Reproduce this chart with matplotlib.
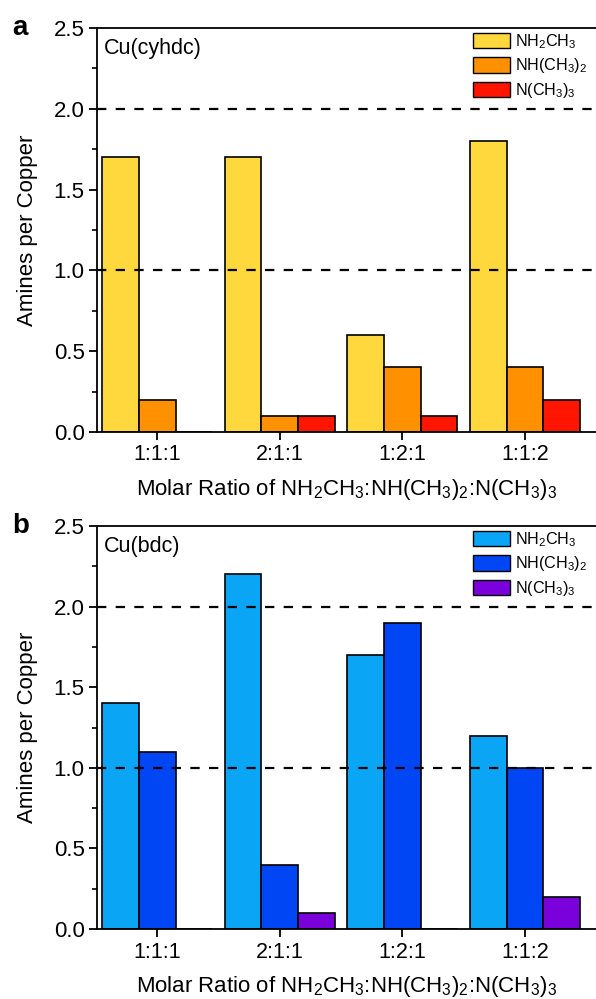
import matplotlib
matplotlib.use('Agg')
import matplotlib.pyplot as plt
import numpy as np
from matplotlib.patches import Patch

plt.rcParams['font.family'] = ['Liberation Sans', 'DejaVu Sans']
plt.rcParams['mathtext.default'] = 'regular'

ratios = ['1:1:1', '2:1:1', '1:2:1', '1:1:2']
amines = ['NH$_2$CH$_3$', 'NH(CH$_3$)$_2$', 'N(CH$_3$)$_3$']

cyhdc_nh2ch3 = [1.7, 1.7, 0.6, 1.8]
cyhdc_nhch32 = [0.2, 0.1, 0.4, 0.4]
cyhdc_nch33 = [0.0, 0.1, 0.1, 0.2]

bdc_nh2ch3 = [1.4, 2.2, 1.7, 1.2]
bdc_nhch32 = [1.1, 0.4, 1.9, 1.0]
bdc_nch33 = [0.0, 0.1, 0.0, 0.2]

cyhdc_colors = ['#FFD83D', '#FF9100', '#FF1500']
bdc_colors = ['#0AA6F5', '#0046F5', '#7A00DC']


def draw_panel(ax, series, colors, name, letter):
    x = np.arange(1, len(ratios) + 1)
    w = 0.30
    for i, vals in enumerate(series):
        ax.bar(x + (i - 1) * w, vals, width=w, color=colors[i],
               edgecolor='black', linewidth=1.2, zorder=2)
    for y in [1.0, 2.0]:
        ax.axhline(y, color='black', linestyle=(0, (4.2, 4.2)), linewidth=1.6, zorder=3)
    ax.set_xlim(0.51, 4.58)
    ax.set_ylim(0, 2.5)
    ax.set_xticks(x)
    ax.set_xticklabels(ratios, fontsize=15.5)
    ax.set_yticks(np.arange(0, 2.51, 0.5))
    ax.set_yticklabels(['%.1f' % v for v in np.arange(0, 2.51, 0.5)], fontsize=16)
    ax.set_yticks(np.arange(0.25, 2.5, 0.5), minor=True)
    ax.tick_params(axis='both', which='major', direction='out', length=6, width=1.3, pad=3)
    ax.tick_params(axis='y', which='minor', direction='out', length=3.5, width=1.2)
    for s in ['left', 'bottom', 'top']:
        ax.spines[s].set_linewidth(1.3)
    ax.spines['right'].set_visible(False)
    ax.set_ylabel('Amines per Copper', fontsize=16, labelpad=11)
    ax.set_xlabel('Molar Ratio of NH$_2$CH$_3$:NH(CH$_3$)$_2$:N(CH$_3$)$_3$',
                  fontsize=16, labelpad=8)
    ax.text(0.014, 0.975, name, transform=ax.transAxes, fontsize=15.5,
            ha='left', va='top')
    handles = [Patch(facecolor=colors[i], edgecolor='black', linewidth=1.0,
                     label=amines[i]) for i in range(3)]
    ax.legend(handles=handles, loc='upper right', bbox_to_anchor=(1.0, 1.012),
              frameon=False, fontsize=11.6, handlelength=2.3, handleheight=1.1,
              handletextpad=0.3, labelspacing=0.35, borderaxespad=0.15)
    ax.text(-0.17, 1.0, letter, transform=ax.transAxes, fontsize=20,
            fontweight='bold', ha='left', va='center')


fig = plt.figure(figsize=(5.96, 9.99), dpi=100)
ax1 = fig.add_axes([0.163, 0.5676, 0.837, 0.4044])
ax2 = fig.add_axes([0.163, 0.070, 0.837, 0.4035])

draw_panel(ax1, [cyhdc_nh2ch3, cyhdc_nhch32, cyhdc_nch33], cyhdc_colors, 'Cu(cyhdc)', 'a')
draw_panel(ax2, [bdc_nh2ch3, bdc_nhch32, bdc_nch33], bdc_colors, 'Cu(bdc)', 'b')

fig.savefig('out.png', dpi=100)
